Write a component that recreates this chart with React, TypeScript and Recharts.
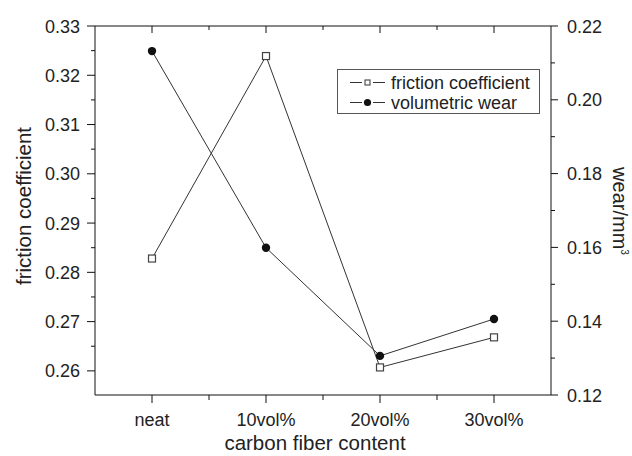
import { LineChart, Line, XAxis, YAxis, Legend } from 'recharts'

const categories = ['neat', '10vol%', '20vol%', '30vol%']
const frictionCoefficient = [0.2828, 0.3239, 0.2607, 0.2668]
const volumetricWear = [0.2132, 0.1599, 0.1306, 0.1406]

const xTicks = [0, 0.5, 1, 1.5, 2, 2.5, 3]
const frictionTicks = [0.26, 0.265, 0.27, 0.275, 0.28, 0.285, 0.29, 0.295, 0.3, 0.305, 0.31, 0.315, 0.32, 0.325, 0.33]
const wearTicks = [0.12, 0.13, 0.14, 0.15, 0.16, 0.17, 0.18, 0.19, 0.2, 0.21, 0.22]

const data = categories.map((name, i) => ({
    pos: i,
    name,
    friction: frictionCoefficient[i],
    wear: volumetricWear[i],
}))

const FONT = "'Liberation Sans', Arial, Helvetica, sans-serif"
const AXIS = '#111'
const LINE = '#333'
const TEXT = '#222'

function BottomTick(props: any) {
    const { x, y, payload } = props
    const v = payload.value
    const major = Number.isInteger(v)
    return (
        <g>
            <line x1={x} x2={x} y1={y} y2={y + (major ? 8 : 5)} stroke={AXIS} />
            {major && (
                <text x={x} y={y + 31} textAnchor="middle" fontSize={18} fill={TEXT} fontFamily={FONT}>
                    {categories[v]}
                </text>
            )}
        </g>
    )
}

function TopTick(props: any) {
    const { x, y, payload } = props
    const major = Number.isInteger(payload.value)
    return <line x1={x} x2={x} y1={y} y2={y + (major ? 7 : 4)} stroke={AXIS} />
}

function LeftTick(props: any) {
    const { x, y, payload } = props
    const v = payload.value
    const major = Math.round(v * 1000) % 10 === 0
    return (
        <g>
            <line x1={x - (major ? 8 : 4)} x2={x} y1={y} y2={y} stroke={AXIS} />
            {major && (
                <text x={x - 15} y={y + 6.5} textAnchor="end" fontSize={18} fill={TEXT} fontFamily={FONT}>
                    {v.toFixed(2)}
                </text>
            )}
        </g>
    )
}

function RightTick(props: any) {
    const { x, y, payload } = props
    const v = payload.value
    const major = Math.round(v * 100) % 2 === 0
    return (
        <g>
            <line x1={x} x2={x + (major ? 7 : 4)} y1={y} y2={y} stroke={AXIS} />
            {major && (
                <text x={x + 16} y={y + 6.5} textAnchor="start" fontSize={18} fill={TEXT} fontFamily={FONT}>
                    {v.toFixed(2)}
                </text>
            )}
        </g>
    )
}

const SquareDot = (p: any) =>
    p.cx == null ? null : (
        <rect key={`sq-${p.index}`} x={p.cx - 3.5} y={p.cy - 3.5} width={7} height={7} fill="#fff" stroke="#444" strokeWidth={1.2} />
    )

const CircleDot = (p: any) =>
    p.cx == null ? null : <circle key={`ci-${p.index}`} cx={p.cx} cy={p.cy} r={4.2} fill="#111" stroke="none" />

// legend drawn like the original: dash, gap, marker, gap, dash
function LegendBox() {
    return (
        <svg width={203} height={45} style={{ display: 'block' }}>
            <rect x={0.5} y={0.5} width={202} height={44} fill="#fff" stroke="#555" />
            <line x1={13} x2={25} y1={13.5} y2={13.5} stroke={LINE} />
            <line x1={36} x2={48} y1={13.5} y2={13.5} stroke={LINE} />
            <rect x={28} y={11} width={5} height={5} fill="#fff" stroke="#444" strokeWidth={1.1} />
            <text x={54} y={20} fontSize={18} fill={TEXT} fontFamily={FONT}>friction coefficient</text>
            <line x1={13} x2={25} y1={33.5} y2={33.5} stroke={LINE} />
            <line x1={36} x2={48} y1={33.5} y2={33.5} stroke={LINE} />
            <circle cx={30.5} cy={33.5} r={3.6} fill="#111" />
            <text x={54} y={40} fontSize={18} fill={TEXT} fontFamily={FONT}>volumetric wear</text>
        </svg>
    )
}

export default function App() {
    return (
        <div style={{ position: 'absolute', left: 0, top: 0, background: '#fff' }}>
            <LineChart width={632} height={456} data={data} margin={{ top: 0, right: 0, bottom: 0, left: 0 }}>
                <XAxis
                    xAxisId="b"
                    dataKey="pos"
                    type="number"
                    domain={[-0.5, 3.5]}
                    ticks={xTicks}
                    interval={0}
                    height={61}
                    tickSize={0}
                    tickMargin={0}
                    tickLine={false}
                    axisLine={{ stroke: AXIS }}
                    tick={BottomTick}
                    label={() => (
                        <text x={315} y={450} textAnchor="middle" fontSize={20.5} fill={TEXT} fontFamily={FONT}>
                            carbon fiber content
                        </text>
                    )}
                />
                <XAxis
                    xAxisId="t"
                    orientation="top"
                    dataKey="pos"
                    type="number"
                    domain={[-0.5, 3.5]}
                    ticks={xTicks}
                    interval={0}
                    height={26}
                    tickSize={0}
                    tickMargin={0}
                    tickLine={false}
                    axisLine={{ stroke: AXIS }}
                    tick={TopTick}
                />
                <YAxis
                    yAxisId="left"
                    type="number"
                    domain={[0.2551, 0.33]}
                    ticks={frictionTicks}
                    interval={0}
                    width={95}
                    tickSize={0}
                    tickMargin={0}
                    tickLine={false}
                    axisLine={{ stroke: AXIS }}
                    tick={LeftTick}
                    allowDataOverflow
                    label={() => (
                        <text x={31} y={206} transform="rotate(-90 31 206)" textAnchor="middle" fontSize={20.5} fill={TEXT} fontFamily={FONT}>
                            friction coefficient
                        </text>
                    )}
                />
                <YAxis
                    yAxisId="right"
                    orientation="right"
                    type="number"
                    domain={[0.12, 0.22]}
                    ticks={wearTicks}
                    interval={0}
                    width={81}
                    tickSize={0}
                    tickMargin={0}
                    tickLine={false}
                    axisLine={{ stroke: AXIS }}
                    tick={RightTick}
                    allowDataOverflow
                    label={() => (
                        <text x={613} y={211} transform="rotate(90 613 211)" textAnchor="middle" fontSize={20} fill={TEXT} fontFamily={FONT}>
                            wear/mm<tspan dy={-8} fontSize={10}>3</tspan>
                        </text>
                    )}
                />
                <Line
                    xAxisId="b"
                    yAxisId="left"
                    dataKey="friction"
                    name="friction coefficient"
                    stroke={LINE}
                    strokeWidth={1}
                    dot={SquareDot}
                    isAnimationActive={false}
                />
                <Line
                    xAxisId="b"
                    yAxisId="right"
                    dataKey="wear"
                    name="volumetric wear"
                    stroke={LINE}
                    strokeWidth={1}
                    dot={CircleDot}
                    isAnimationActive={false}
                />
                <Legend
                    layout="vertical"
                    align="center"
                    verticalAlign="middle"
                    wrapperStyle={{ left: 337, top: 69, width: 203, height: 45 }}
                    content={() => <LegendBox />}
                />
            </LineChart>
        </div>
    )
}
